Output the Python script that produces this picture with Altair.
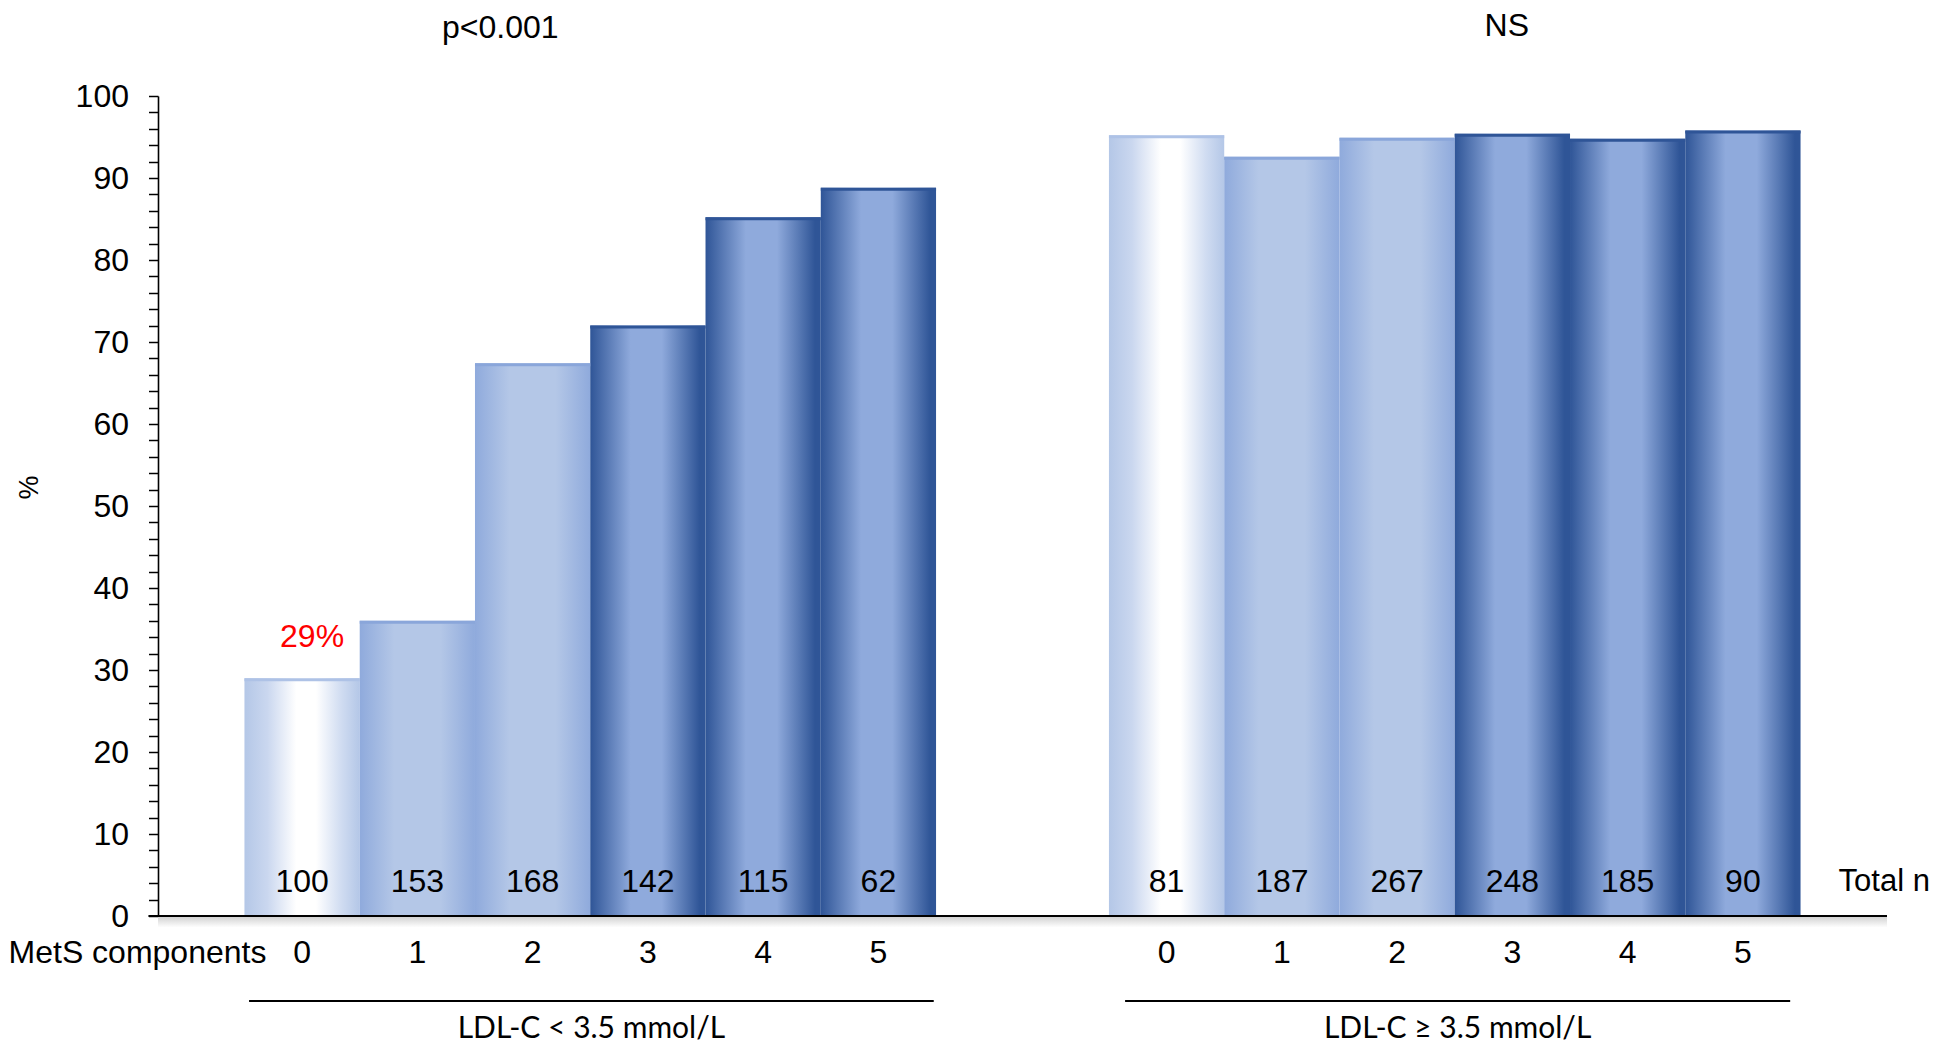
import altair as alt
import pandas as pd

# ---------------- data ----------------
components = [0, 1, 2, 3, 4, 5]
pct_low_ldl = [29.0, 36.0, 67.4, 72.0, 85.2, 88.8]     # LDL-C < 3.5
pct_high_ldl = [95.2, 92.6, 94.9, 95.4, 94.8, 95.8]    # LDL-C >= 3.5
n_low_ldl = [100, 153, 168, 142, 115, 62]
n_high_ldl = [81, 187, 267, 248, 185, 90]
group_labels = ["LDL-C < 3.5 mmol/L", "LDL-C \u2265 3.5 mmol/L"]
p_labels = ["p<0.001", "NS"]
highlight_label = "29%"
bar_style = ["A", "B", "B", "C", "C", "C"]

# ---------------- layout constants ----------------
GROUP_START = [0.75, 8.25]
LINE_INSET_L = [0.04, 0.14]
LINE_INSET_R = [0.02, 0.09]
ARIAL = "Liberation Sans, Arial, Helvetica, sans-serif"
CALIBRI = "Lato, Carlito, Calibri, sans-serif"

rows = []
for g, (pcts, ns) in enumerate([(pct_low_ldl, n_low_ldl), (pct_high_ldl, n_high_ldl)]):
    for i, c in enumerate(components):
        s = GROUP_START[g] + i
        rows.append(dict(group=group_labels[g], comp=str(c), pct=pcts[i], n=ns[i],
                         start=s, end=s + 1, center=s + 0.5, style=bar_style[i]))
df = pd.DataFrame(rows)

grp = pd.DataFrame(dict(
    group=group_labels,
    lstart=[GROUP_START[g] + LINE_INSET_L[g] for g in range(2)],
    lend=[GROUP_START[g] + len(components) - LINE_INSET_R[g] for g in range(2)],
))
grp["center"] = (grp["lstart"] + grp["lend"]) / 2

one = pd.DataFrame({"k": [0]})

x_scale = alt.Scale(domain=[0, 15], nice=False, zero=False)
y_scale = alt.Scale(domain=[0, 100], nice=False)

yaxis = alt.Axis(
    values=list(range(0, 101, 2)),
    labelExpr="datum.value % 10 === 0 ? datum.label : ''",
    labelOverlap=False, labelBound=False, labelFlush=False,
    labelFont=ARIAL, labelFontSize=32, labelColor="black", labelPadding=20,
    tickSize=9.5, tickColor="black", tickWidth=1.5,
    domainColor="black", domainWidth=1.6, grid=False,
    title="%", titleFont=ARIAL, titleFontSize=27, titleFontWeight="normal",
    titleColor="black", titleAngle=270, titleX=-128.5, titleY=391,
    titleAlign="center", titleBaseline="middle",
)


def XF(field):
    return alt.X(field, type="quantitative", scale=x_scale, axis=None)


def XD(v):
    return alt.XDatum(v, type="quantitative", scale=x_scale, axis=None)


def YF(field):
    return alt.Y(field, type="quantitative", scale=y_scale, axis=yaxis)


def YD(v):
    return alt.YDatum(v, type="quantitative", scale=y_scale, axis=yaxis)


def grad(stops, vertical=False):
    return alt.LinearGradient(
        gradient="linear",
        stops=[alt.GradientStop(color=c, offset=o) for o, c in stops],
        x1=0, x2=0 if vertical else 1, y1=0, y2=1 if vertical else 0,
    )


grad_a = grad([(0, "#b4c7e7"), (0.2, "#cad7ef"), (0.45, "#ffffff"), (0.62, "#ffffff"),
               (0.84, "#d0dcf1"), (1, "#b4c7e7")])
grad_b = grad([(0, "#8faadc"), (0.3, "#b4c7e7"), (0.7, "#b4c7e7"), (1, "#8faadc")])
grad_c = grad([(0, "#2f5597"), (0.35, "#8faadc"), (0.62, "#8faadc"), (0.95, "#2f5597"),
               (1, "#2f5597")])
shadow_grad = grad([(0, "#cfcfcf"), (1, "#ffffff")], vertical=True)

base = alt.Chart(df)


def bars(style, g):
    return base.transform_filter(alt.datum.style == style).mark_bar(
        fill=g, strokeWidth=0
    ).encode(x=XF("start"), x2=alt.X2("end"), y=YF("pct"), y2=alt.Y2Datum(0))


tops = base.mark_rule(strokeWidth=3, yOffset=1.5).encode(
    x=XF("start"), x2=alt.X2("end"), y=YF("pct"),
    color=alt.Color("style:N", scale=alt.Scale(domain=["A", "B", "C"],
                                               range=["#aec2e6", "#8aa6da", "#2f5597"]),
                    legend=None),
)

shadow = alt.Chart(one).mark_rect(fill=shadow_grad).encode(
    x=XD(0), x2=alt.X2Datum(15), y=YD(0), y2=alt.Y2Datum(-1.4)
)

baseline = alt.Chart(one).mark_rule(color="black", strokeWidth=2.2).encode(
    x=XD(-0.083), x2=alt.X2Datum(15), y=YD(0)
)

counts = base.mark_text(font=ARIAL, fontSize=32, baseline="alphabetic", dy=-24.5,
                        color="black").encode(x=XF("center"), y=YD(0), text="n:Q")

cats = base.mark_text(font=ARIAL, fontSize=32, baseline="alphabetic", dy=46.5,
                      color="black").encode(x=XF("center"), y=YD(0), text="comp:N")

mets = alt.Chart(one).mark_text(font=ARIAL, fontSize=32, baseline="alphabetic", dy=46.5,
                                dx=22, align="right", color="black",
                                text="MetS components").encode(x=XD(GROUP_START[0]), y=YD(0))

total_n = alt.Chart(one).mark_text(font=ARIAL, fontSize=31, baseline="alphabetic", dy=-25,
                                   dx=38, align="left", color="black",
                                   text="Total n").encode(
    x=XD(GROUP_START[1] + len(components)), y=YD(0))

glines = alt.Chart(grp).mark_rule(color="black", strokeWidth=2, yOffset=85).encode(
    x=XF("lstart"), x2=alt.X2("lend"), y=YD(0)
)

gtext = alt.Chart(grp).mark_text(font=CALIBRI, fontSize=30, baseline="alphabetic", dy=122,
                                 color="black").encode(x=XF("center"), y=YD(0), text="group:N")

p1 = alt.Chart(one).mark_text(font=ARIAL, fontSize=32, baseline="alphabetic", dy=-58,
                              dx=-90, color="black", text=p_labels[0]).encode(
    x=XD(GROUP_START[0] + 3), y=YD(100))
p2 = alt.Chart(one).mark_text(font=ARIAL, fontSize=32, baseline="alphabetic", dy=-60,
                              dx=52, color="black", text=p_labels[1]).encode(
    x=XD(GROUP_START[1] + 3), y=YD(100))

hl = alt.Chart(one).mark_text(font=ARIAL, fontSize=32, baseline="alphabetic", dy=-31,
                              dx=10, color="#ff0000", text=highlight_label).encode(
    x=XD(GROUP_START[0] + 0.5), y=YD(pct_low_ldl[0]))

chart = alt.layer(
    shadow,
    bars("A", grad_a), bars("B", grad_b), bars("C", grad_c),
    tops, baseline, counts, cats, mets, total_n, glines, gtext, p1, p2, hl,
).properties(
    width=1729, height=820,
    padding={"left": 150, "top": 88, "right": 49, "bottom": 129},
    autosize=alt.AutoSizeParams(type="none"),
    background="white",
).configure_view(stroke=None)

chart.save("out.html", embed_options={"renderer": "svg", "actions": False})
